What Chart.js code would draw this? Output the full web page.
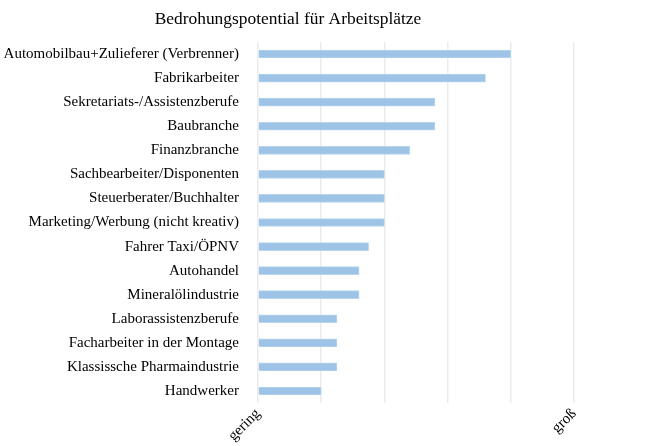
<!DOCTYPE html>
<html>
<head>
<meta charset="utf-8">
<script src="https://cdn.jsdelivr.net/npm/chart.js@4.4.0/dist/chart.umd.min.js"></script>
<style>
  html, body { margin: 0; padding: 0; background: #fff; }
  #wrap { width: 656px; height: 446px; }
</style>
</head>
<body>
<div id="wrap"><canvas id="chart"></canvas></div>
<script>
// ── Daten ──
const berufe = [
    'Automobilbau+Zulieferer (Verbrenner)',
    'Fabrikarbeiter',
    'Sekretariats-/Assistenzberufe',
    'Baubranche',
    'Finanzbranche',
    'Sachbearbeiter/Disponenten',
    'Steuerberater/Buchhalter',
    'Marketing/Werbung (nicht kreativ)',
    'Fahrer Taxi/ÖPNV',
    'Autohandel',
    'Mineralölindustrie',
    'Laborassistenzberufe',
    'Facharbeiter in der Montage',
    'Klassissche Pharmaindustrie',
    'Handwerker'
];
const potential = [4.0, 3.6, 2.8, 2.8, 2.4, 2.0, 2.0, 2.0, 1.75, 1.6, 1.6, 1.25, 1.25, 1.25, 1.0];
const skala = ['gering', '', '', '', '', 'groß'];

const SERIF = '"Liberation Serif", "DejaVu Serif", serif';

// ── Titel: über dem Plot zentriert (wie im Original leicht nach links) ──
const titelPlugin = {
    id: 'titel',
    afterDraw(chart) {
        const ctx = chart.ctx;
        ctx.save();
        ctx.font = '17.4px ' + SERIF;
        ctx.fillStyle = '#000';
        ctx.textAlign = 'center';
        ctx.textBaseline = 'middle';
        ctx.fillText('Bedrohungspotential für Arbeitsplätze', 288, 19);
        ctx.restore();
    }
};

new Chart(document.getElementById('chart'), {
    type: 'bar',
    data: {
        labels: berufe,
        datasets: [{
            data: potential,
            backgroundColor: '#9dc3e6',
            borderColor: '#b9d5ee',
            borderWidth: 1,
            barThickness: 8
        }]
    },
    options: {
        indexAxis: 'y',
        responsive: true,
        maintainAspectRatio: false,
        animation: false,
        layout: { padding: { top: 42, right: 82, left: 0, bottom: 0 } },
        plugins: { legend: { display: false }, tooltip: { enabled: false } },
        scales: {
            x: {
                min: 0, max: 5,
                afterFit: s => { s.height = 43; },
                grid: { color: '#ebebeb', lineWidth: 1.5, drawTicks: false },
                border: { display: false },
                ticks: {
                    stepSize: 1,
                    autoSkip: false,
                    minRotation: 45, maxRotation: 45,
                    padding: 2,
                    color: '#000',
                    font: { family: SERIF, size: 15 },
                    callback: (v, i) => skala[i]
                }
            },
            y: {
                afterFit: s => { s.width = 258; },
                grid: { display: false },
                border: { display: false },
                ticks: {
                    padding: 11,
                    color: '#000',
                    font: { family: SERIF, size: 15 }
                }
            }
        }
    },
    plugins: [titelPlugin]
});
</script>
</body>
</html>
